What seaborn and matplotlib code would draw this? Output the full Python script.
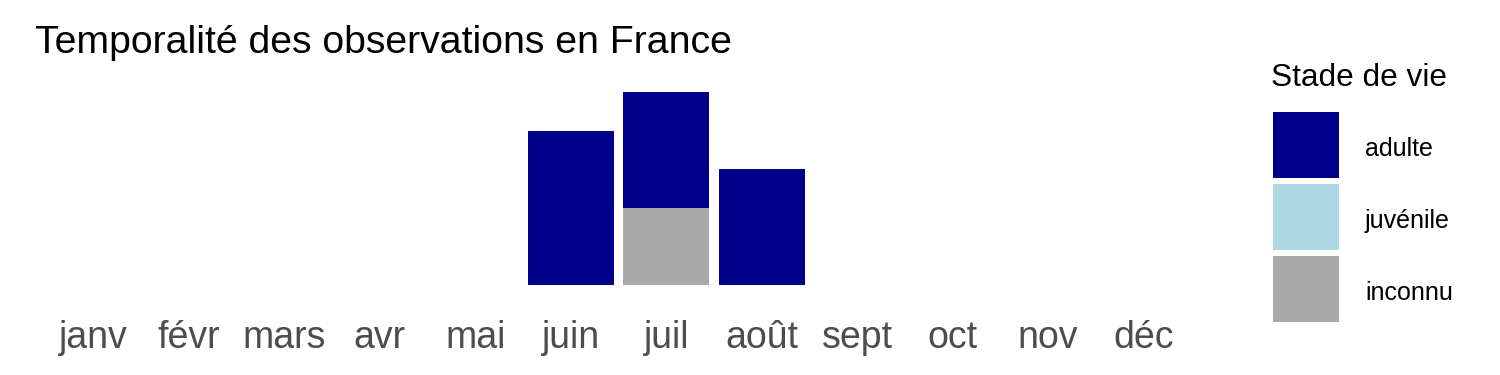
import matplotlib
matplotlib.use("Agg")
import matplotlib.pyplot as plt
from matplotlib.patches import Patch
import seaborn as sns
import pandas as pd

months = ["janv", "févr", "mars", "avr", "mai", "juin", "juil", "août", "sept", "oct", "nov", "déc"]
stades = ["adulte", "juvénile", "inconnu"]
colors = ["#00008B", "#ADD8E6", "#A9A9A9"]
adulte = [0, 0, 0, 0, 0, 4, 3, 3, 0, 0, 0, 0]
juvenile = [0, 0, 0, 0, 0, 0, 0, 0, 0, 0, 0, 0]
inconnu = [0, 0, 0, 0, 0, 0, 2, 0, 0, 0, 0, 0]
title = "Temporalité des observations en France"
legend_title = "Stade de vie"

rows = []
for stade, vals in zip(stades, [adulte, juvenile, inconnu]):
    for i, v in enumerate(vals):
        rows.append({"mois": i, "stade": stade, "n": v})
df = pd.DataFrame(rows)

sns.set_theme(style="white")
plt.rcParams["font.family"] = ["Liberation Sans", "DejaVu Sans"]

fig = plt.figure(figsize=(15, 3.75), dpi=100)
ax = fig.add_axes([36 / 1500, 1 - 294.6 / 375, 1165 / 1500, (294.6 - 82.4) / 375])

sns.histplot(data=df, x="mois", weights="n", hue="stade", hue_order=stades,
             palette=colors, multiple="stack", discrete=True, shrink=0.9,
             linewidth=0, alpha=1, ax=ax, legend=False)

ax.set_xlim(-0.6, 11.6)
ax.set_ylim(-0.25, 5.25)
ax.set_xticks(range(12))
ax.set_xticklabels(months, fontsize=27, color="#4D4D4D")
ax.set_yticks([])
ax.tick_params(axis="x", length=0, pad=18)
ax.set_xlabel("")
ax.set_ylabel("")
for s in ax.spines.values():
    s.set_visible(False)
ax.grid(False)

fig.text(35 / 1500, 1 - 53 / 375, title, fontsize=28.3, va="baseline", ha="left", color="black")
fig.text(1271 / 1500, 1 - 86 / 375, legend_title, fontsize=22.8, va="baseline", ha="left", color="black")

handles = [Patch(facecolor=c, edgecolor="none", label=s) for s, c in zip(stades, colors)]
leg = fig.legend(handles=handles, loc="upper left", bbox_to_anchor=(1273 / 1500, 1 - 112 / 375),
                 frameon=False, fontsize=25.86, handlelength=1.837, handleheight=2.45,
                 labelspacing=0.167, handletextpad=0.724, borderpad=0, borderaxespad=0)
for t in leg.get_texts():
    t.set_fontsize(18)
    t.set_color("black")

fig.savefig("out.png", dpi=100)
